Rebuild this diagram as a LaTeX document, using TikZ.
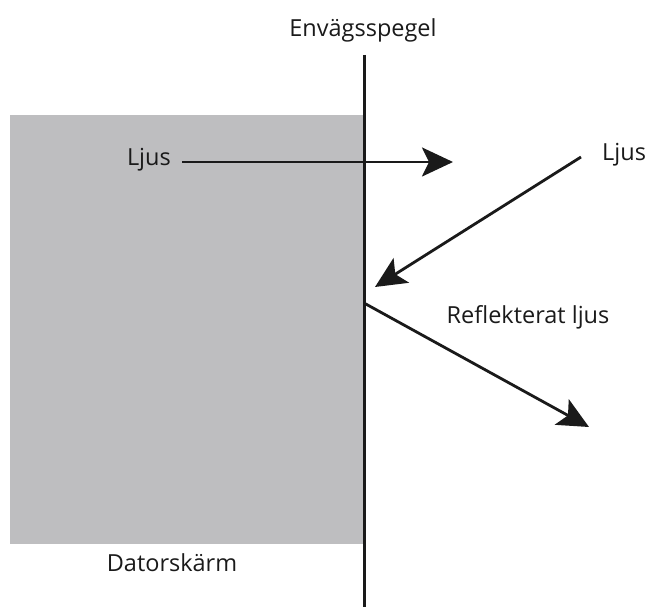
\documentclass[tikz,border=0pt]{standalone}
\usepackage{fontspec}
\setmainfont{Open Sans}
\usetikzlibrary{arrows.meta}
\definecolor{screengray}{HTML}{BEBEC0}
\definecolor{ink}{HTML}{1A1A1A}
\tikzset{
  lbl/.style={font=\fontsize{23.5}{28}\selectfont, text=ink, inner sep=0pt},
  ray/.style={draw=ink, line width=2.8pt, -{Stealth[length=31pt, width=29pt, inset=7pt]}},
}
\begin{document}
\begin{tikzpicture}[x=1pt, y=-1pt]
\useasboundingbox (0,0) rectangle (649,607);
\fill[screengray] (10,115) rectangle (363,544);
\coordinate (mtop) at (364,55);
\coordinate (mbot) at (364,607);
\draw[ink, line width=3pt] (mtop) -- (mbot);
\node[lbl] (env) at (363,30) {Envägsspegel};
\node[lbl, anchor=east] (ljus1) at (171,160) {Ljus};
\coordinate (s1) at (182,162);
\coordinate (t1) at (453,162);
\draw[ray] (s1) -- (t1);
\node[lbl, anchor=west] (ljus2) at (602,155) {Ljus};
\coordinate (s2) at (581,157);
\coordinate (t2) at (375,287);
\draw[ray] (s2) -- (t2);
\coordinate (s3) at (364,303);
\coordinate (t3) at (589,427);
\draw[ray] (s3) -- (t3);
\node[lbl] (refl) at (528,317) {Reflekterat ljus};
\node[lbl] (dator) at (172,563) {Datorskärm};
\end{tikzpicture}
\end{document}
